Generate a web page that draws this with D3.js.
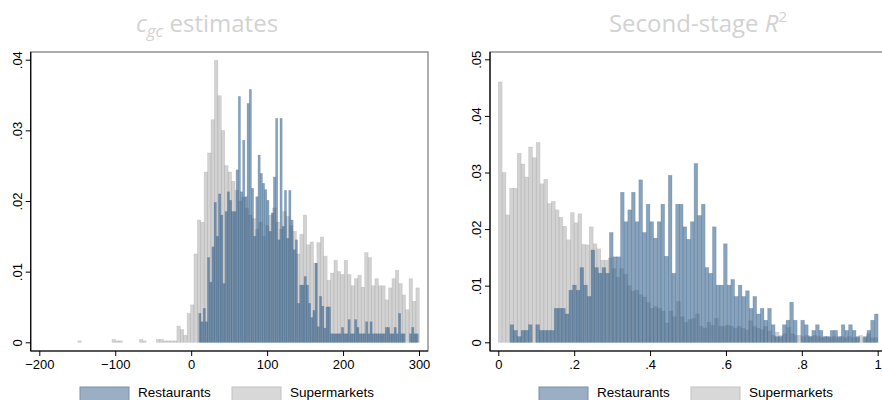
<!DOCTYPE html>
<html>
<head>
<meta charset="utf-8">
<script src="https://cdn.jsdelivr.net/npm/d3@7"></script>
<style>
  body { margin: 0; background: #fff; }
</style>
</head>
<body>
<svg id="chart" width="882" height="400"></svg>
<script>
//////////////////// DATA
// c_gc estimates, supermarkets: 100 bins starting at -149.2, width 4.496
var cgcSuperStart = -149.2, cgcSuperWidth = 4.496;
var cgcSuper = [
  0.0002, 0, 0, 0, 0, 0, 0, 0, 0, 0,
  0.0004, 0.0002, 0.0002, 0, 0, 0, 0, 0, 0.0004, 0.0002,
  0, 0, 0, 0.0004, 0.0004, 0.0002, 0.0002, 0.0002, 0.0002, 0.0023,
  0.0018, 0.0010, 0.0041, 0.0053, 0.0125, 0.0173, 0.0170, 0.0241, 0.0268, 0.0315,
  0.0399, 0.0349, 0.0300, 0.0250, 0.0241, 0.0228, 0.0215, 0.0200, 0.0205, 0.0190,
  0.0180, 0.0175, 0.0160, 0.0170, 0.0150, 0.0165, 0.0180, 0.0190, 0.0170, 0.0160,
  0.0185, 0.0178, 0.0165, 0.0157, 0.0125, 0.0153, 0.0180, 0.0138, 0.0142, 0.0112,
  0.0141, 0.0149, 0.0122, 0.0088, 0.0098, 0.0116, 0.0100, 0.0096, 0.0116, 0.0096,
  0.0080, 0.0090, 0.0095, 0.0078, 0.0127, 0.0120, 0.0080, 0.0090, 0.0080, 0.0080,
  0.0060, 0.0077, 0.0090, 0.0102, 0.0083, 0.0067, 0.0046, 0.0090, 0.0058, 0.0077
];
// c_gc estimates, restaurants: 100 bins starting at 10, width 2.89
var cgcRestStart = 10, cgcRestWidth = 2.89;
var cgcRest = [
  0.0041, 0.0029, 0.0048, 0.0029, 0.0120, 0.0085, 0.0135, 0.0198, 0.0150, 0.0210,
  0.0180, 0.0083, 0.0185, 0.0213, 0.0201, 0.0185, 0.0185, 0.0244, 0.0348, 0.0213,
  0.0286, 0.0206, 0.0338, 0.0358, 0.0218, 0.0150, 0.0206, 0.0265, 0.0239, 0.0225,
  0.0216, 0.0201, 0.0157, 0.0183, 0.0234, 0.0317, 0.0145, 0.0317, 0.0164, 0.0215,
  0.0147, 0.0215, 0.0173, 0.0131, 0.0145, 0.0055, 0.0081, 0.0081, 0.0093, 0.0081,
  0.0055, 0.0035, 0.0045, 0.0112, 0.0022, 0.0065, 0.0051, 0.0020, 0.0050, 0.0050,
  0.0012, 0.0012, 0.0012, 0.0012, 0.0012, 0.0021, 0.0012, 0.0012, 0.0032, 0.0012,
  0.0012, 0.0032, 0.0021, 0.0012, 0.0012, 0.0012, 0.0029, 0.0012, 0.0029, 0.0012,
  0.0012, 0.0012, 0.0012, 0.0012, 0.0012, 0.0021, 0.0021, 0.0012, 0.0012, 0.0021,
  0.0012, 0.0041, 0.0012, 0.0012, 0, 0, 0.0012, 0.0021, 0.0012, 0.0012
];
// second-stage R2, supermarkets: 100 bins from 0, width 0.01
var r2SuperStart = 0, r2SuperWidth = 0.01;
var r2Super = [
  0.0460, 0.0300, 0.0225, 0.0272, 0.0272, 0.0334, 0.0315, 0.0292, 0.0345, 0.0326,
  0.0353, 0.0280, 0.0288, 0.0245, 0.0249, 0.0234, 0.0221, 0.0205, 0.0181, 0.0229,
  0.0211, 0.0227, 0.0173, 0.0172, 0.0204, 0.0174, 0.0165, 0.0145, 0.0145, 0.0149,
  0.0130, 0.0115, 0.0130, 0.0120, 0.0100, 0.0090, 0.0092, 0.0084, 0.0080, 0.0070,
  0.0060, 0.0063, 0.0060, 0.0055, 0.0034, 0.0055, 0.0045, 0.0072, 0.0045, 0.0035,
  0.0040, 0.0042, 0.0050, 0.0028, 0.0025, 0.0035, 0.0030, 0.0042, 0.0028, 0.0028,
  0.0030, 0.0028, 0.0025, 0.0028, 0.0025, 0.0022, 0.0038, 0.0028, 0.0025, 0.0022,
  0.0028, 0.0020, 0.0012, 0.0018, 0.0012, 0.0015, 0.0026, 0.0015, 0.0012, 0.0012,
  0.0010, 0.0012, 0.0010, 0.0012, 0.0010, 0.0008, 0.0010, 0.0008, 0.0010, 0.0008,
  0.0010, 0.0008, 0.0010, 0.0008, 0.0008, 0.0012, 0.0008, 0.0015, 0.0008, 0.0008
];
// second-stage R2, restaurants: 100 bins from 0.031, width 0.0097
var r2RestStart = 0.031, r2RestWidth = 0.0097;
var r2Rest = [
  0.0031, 0.0021, 0.0010, 0.0021, 0.0021, 0.0031, 0, 0.0031, 0.0021, 0.0021,
  0.0021, 0.0021, 0.0060, 0.0060, 0.0060, 0.0050, 0.0092, 0.0101, 0.0092, 0.0132,
  0.0101, 0.0081, 0.0163, 0.0132, 0.0122, 0.0132, 0.0122, 0.0194, 0.0151, 0.0151,
  0.0265, 0.0213, 0.0234, 0.0265, 0.0213, 0.0287, 0.0194, 0.0244, 0.0213, 0.0184,
  0.0213, 0.0244, 0.0152, 0.0295, 0.0122, 0.0244, 0.0244, 0.0204, 0.0182, 0.0213,
  0.0316, 0.0224, 0.0244, 0.0132, 0.0122, 0.0204, 0.0101, 0.0101, 0.0174, 0.0101,
  0.0111, 0.0081, 0.0101, 0.0081, 0.0091, 0.0060, 0.0081, 0.0050, 0.0060, 0.0039,
  0.0060, 0.0031, 0.0010, 0.0010, 0.0031, 0.0039, 0.0071, 0.0039, 0, 0.0039,
  0.0031, 0.0010, 0.0021, 0.0031, 0.0021, 0.0010, 0.0010, 0.0021, 0.0021, 0.0010,
  0.0031, 0.0021, 0.0031, 0.0021, 0.0010, 0, 0.0010, 0.0021, 0.0039, 0.0050
];

var cgcTicksX = [-200, -100, 0, 100, 200, 300];
var cgcTicksY = [0, 0.01, 0.02, 0.03, 0.04];
var r2TicksX = [0, 0.2, 0.4, 0.6, 0.8, 1];
var r2TicksY = [0, 0.01, 0.02, 0.03, 0.04, 0.05];
var seriesNames = ["Restaurants", "Supermarkets"];

//////////////////// STYLE
var restColor = "#2a5885", superColor = "#a6a6a6";
var axisFont = "Liberation Sans, Arial, sans-serif";
var titleFont = "Open Sans, DejaVu Sans, sans-serif";
var svg = d3.select("#chart");

// stata style labels: ".04", "0", "-200", ".2", "1"
function stataFmt(d) {
  if (d === 0) return "0";
  var s = d3.format("~g")(d);
  return s.replace(/^0\./, ".").replace(/^-0\./, "-.");
}

// bins -> {x0, x1, v}, empty bins dropped
function toBins(vals, start, width) {
  return vals.map(function(v, i) {
    return {x0: start + i * width, x1: start + (i + 1) * width, v: v};
  }).filter(b => b.v > 0);
}

function drawPanel(opts) {
  var g = svg.append("g");
  var x = d3.scaleLinear().domain(opts.xDomain).range(opts.xRange);
  var y = d3.scaleLinear().domain(opts.yDomain).range([342.3, opts.yTop]);
  var box = opts.box; // [left, top, right, bottom]

  // plot region frame
  g.append("rect")
    .attr("x", box[0]).attr("y", box[1])
    .attr("width", box[2] - box[0]).attr("height", box[3] - box[1])
    .attr("fill", "none")
    .attr("stroke", "#8a8a8a")
    .attr("stroke-width", 1.4);

  // supermarkets underneath
  g.append("g").selectAll("rect")
    .data(toBins(opts.superVals, opts.superStart, opts.superWidth))
    .enter().append("rect")
    .attr("x", d => x(d.x0))
    .attr("width", d => x(d.x1) - x(d.x0))
    .attr("y", d => y(d.v))
    .attr("height", d => y(0) - y(d.v))
    .attr("fill", superColor)
    .attr("fill-opacity", 0.5)
    .attr("stroke", "#9a9a9a")
    .attr("stroke-opacity", 0.35)
    .attr("stroke-width", 0.6);

  // restaurants on top
  g.append("g").selectAll("rect")
    .data(toBins(opts.restVals, opts.restStart, opts.restWidth))
    .enter().append("rect")
    .attr("x", d => x(d.x0))
    .attr("width", d => x(d.x1) - x(d.x0))
    .attr("y", d => y(d.v))
    .attr("height", d => y(0) - y(d.v))
    .attr("fill", restColor)
    .attr("fill-opacity", 0.55)
    .attr("stroke", restColor)
    .attr("stroke-opacity", 0.3)
    .attr("stroke-width", 0.6);

  // axes
  var xAxis = d3.axisBottom(x).tickValues(opts.xTicks).tickSize(5).tickPadding(4).tickFormat(stataFmt);
  var gx = g.append("g")
    .attr("transform", "translate(0," + box[3] + ")")
    .call(xAxis);
  gx.select(".domain").attr("d", "M" + box[0] + ",0H" + box[2]).attr("stroke", "#000").attr("stroke-width", 1.2);
  gx.selectAll(".tick line").attr("stroke", "#000");
  gx.selectAll(".tick text").attr("font-size", 13).attr("fill", "#000").attr("font-family", axisFont);

  var yAxis = d3.axisLeft(y).tickValues(opts.yTicks).tickSize(5).tickFormat(stataFmt);
  var gy = g.append("g")
    .attr("transform", "translate(" + box[0] + ",0)")
    .call(yAxis);
  gy.select(".domain").attr("d", "M0," + box[1] + "V" + box[3]).attr("stroke", "#000").attr("stroke-width", 1.2);
  gy.selectAll(".tick line").attr("stroke", "#000");
  gy.selectAll(".tick text")
    .attr("font-size", 13).attr("fill", "#000")
    .attr("font-family", axisFont)
    .attr("x", null).attr("dy", null)
    .attr("text-anchor", "middle")
    .attr("transform", "translate(-9,0) rotate(-90)");

  ///////////////////// LEGEND
  var lg = g.append("g").attr("transform", "translate(" + opts.legendX + ",387)");
  var items = [
    {name: seriesNames[0], fill: "#9aafc3", stroke: "#7790aa", dx: 0},
    {name: seriesNames[1], fill: "#d8d8d8", stroke: "#c2c2c2", dx: 152}
  ];
  items.forEach(function(it) {
    lg.append("rect")
      .attr("x", it.dx).attr("y", 0)
      .attr("width", 49).attr("height", 14)
      .attr("fill", it.fill).attr("stroke", it.stroke).attr("stroke-width", 1);
    lg.append("text")
      .attr("x", it.dx + 58).attr("y", 10)
      .attr("font-size", 13.5)
      .attr("font-family", axisFont)
      .attr("fill", "#000")
      .text(it.name);
  });

  ///////////////////// TITLE
  var t = g.append("text")
    .attr("x", opts.titleX).attr("y", 32)
    .attr("text-anchor", "middle")
    .attr("font-family", titleFont)
    .attr("font-size", 24)
    .attr("fill", "#d2d2d2");
  opts.title(t);
}

drawPanel({
  xDomain: [-200, 300], xRange: [39.3, 419],
  yDomain: [0, 0.04], yTop: 59.7,
  box: [30.7, 52, 428, 351],
  superVals: cgcSuper, superStart: cgcSuperStart, superWidth: cgcSuperWidth,
  restVals: cgcRest, restStart: cgcRestStart, restWidth: cgcRestWidth,
  xTicks: cgcTicksX, yTicks: cgcTicksY,
  legendX: 80, titleX: 207,
  title: function(t) {
    t.append("tspan").attr("font-style", "italic").text("c");
    t.append("tspan").attr("font-style", "italic").attr("font-size", 17).attr("dy", 5).text("gc");
    t.append("tspan").attr("dy", -5).text(" estimates");
  }
});

drawPanel({
  xDomain: [0, 1], xRange: [498.3, 877.7],
  yDomain: [0, 0.05], yTop: 59.3,
  box: [490, 52, 887, 351],
  superVals: r2Super, superStart: r2SuperStart, superWidth: r2SuperWidth,
  restVals: r2Rest, restStart: r2RestStart, restWidth: r2RestWidth,
  xTicks: r2TicksX, yTicks: r2TicksY,
  legendX: 539, titleX: 698,
  title: function(t) {
    t.append("tspan").text("Second-stage ");
    t.append("tspan").attr("font-style", "italic").text("R");
    t.append("tspan").attr("font-size", 15).attr("dy", -10).text("2");
  }
});
</script>
</body>
</html>
